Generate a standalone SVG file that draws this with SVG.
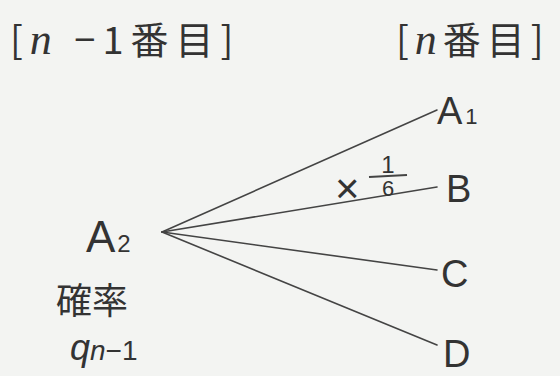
<svg xmlns="http://www.w3.org/2000/svg" width="560" height="376" viewBox="0 0 560 376">
<style>
.t{font-family:"Liberation Sans","Noto Sans CJK JP",sans-serif;fill:#333}
.j{font-family:"Noto Sans CJK JP",sans-serif;fill:#333}
.c line{stroke:#444;stroke-width:1.6;stroke-linecap:round}
</style>
<rect width="560" height="376" fill="#f3f4f2"/>
<g id="hdr-left"><text class="j" x="10" y="54" font-size="38" letter-spacing="7">[<tspan font-family="Liberation Serif" font-style="italic" font-size="44">n</tspan> −1番目]</text></g>
<g id="hdr-right"><text class="j" x="396" y="54" font-size="38" letter-spacing="6">[<tspan font-family="Liberation Serif" font-style="italic" font-size="44">n</tspan>番目]</text></g>
<g class="c" id="connectors">
<line x1="162" y1="232" x2="437" y2="110"/>
<line x1="162" y1="232" x2="437" y2="187"/>
<line x1="162" y1="232" x2="437" y2="270"/>
<line x1="162" y1="232" x2="437" y2="345"/>
</g>
<g id="A2"><text class="t" x="86" y="252" font-size="44">A<tspan font-size="24" dx="2">2</tspan></text></g>
<g id="A1"><text class="t" x="437" y="124" font-size="38">A<tspan font-size="22" dx="3">1</tspan></text></g>
<g id="B"><text class="t" x="446" y="202" font-size="38">B</text></g>
<g id="C"><text class="t" x="441" y="287" font-size="38">C</text></g>
<g id="D"><text class="t" x="443" y="367" font-size="38">D</text></g>
<g id="factor">
<text class="t" x="335" y="203" font-size="42">×</text>
<text class="t" x="388" y="173" font-size="24" text-anchor="middle">1</text>
<line x1="369" y1="177" x2="407" y2="175" stroke="#444" stroke-width="1.8"/>
<text class="t" x="388" y="196" font-size="22" text-anchor="middle">6</text>
</g>
<g id="prob">
<text class="j" x="56" y="314" font-size="36">確率</text>
<text class="t" x="70" y="360" font-size="36" font-family="Liberation Serif" font-style="italic">q<tspan font-size="28" font-style="italic">n</tspan><tspan font-size="28" font-style="normal">−1</tspan></text>
</g>
</svg>
